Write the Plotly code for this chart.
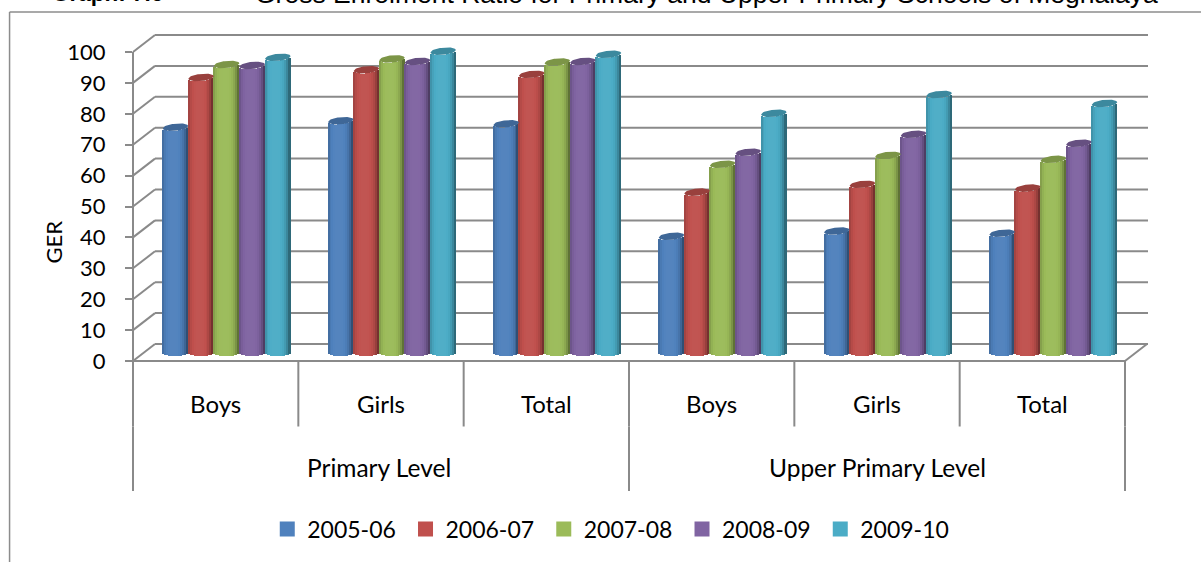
import plotly.graph_objects as go

# ---------- data ----------
levels = ["Primary Level", "Upper Primary Level"]
genders = ["Boys", "Girls", "Total", "Boys", "Girls", "Total"]
years = ["2005-06", "2006-07", "2007-08", "2008-09", "2009-10"]
v_2005_06 = [72.9, 75.0, 74.0, 37.6, 39.3, 38.6]
v_2006_07 = [89.0, 91.5, 90.0, 51.9, 54.4, 53.2]
v_2007_08 = [93.2, 95.0, 94.0, 60.9, 63.8, 62.5]
v_2008_09 = [92.9, 94.2, 94.2, 64.8, 70.6, 67.7]
v_2009_10 = [95.5, 97.5, 96.5, 77.4, 83.5, 80.6]
series = [v_2005_06, v_2006_07, v_2007_08, v_2008_09, v_2009_10]
colors = ["#4F81BD", "#C0504D", "#9BBB59", "#8064A2", "#4BACC6"]
y_ticks = list(range(0, 101, 10))

# ---------- frame geometry (pixels) ----------
W, H = 1201, 562
L, R, T, B = 132.5, 1148, 34, 361
CELL = (1125 - 132.5) / 6
UNIT = 3.09
x_max = (R - L) / CELL
y_max = (B - T) / UNIT
DX, DY = 22 / CELL, 17 / UNIT          # depth of the 3-D box, data units
MID_X, MID_Y = DX / 2, DY / 2          # bars stand half way back
BAR_W = 25.6 / CELL
STRIPS = 13
RY = 3.6 / UNIT
GRID = "#8a8a8a"


def shade(hex_color, f):
    r, g, b = (int(hex_color[i:i + 2], 16) for i in (1, 3, 5))
    if f <= 1:
        r, g, b = r * f, g * f, b * f
    else:
        k = f - 1
        r, g, b = r + (255 - r) * k, g + (255 - g) * k, b + (255 - b) * k
    return f"rgb({int(r)},{int(g)},{int(b)})"


fig = go.Figure()

# cylinder bodies: vertical strips of each bar, shaded across the width
for si, (vals, name, col) in enumerate(zip(series, years, colors)):
    xs, ws, bases, hs, cols = [], [], [], [], []
    sw = BAR_W / STRIPS
    for ci, v in enumerate(vals):
        cx = ci + 0.5 + MID_X + (si - 2) * BAR_W
        for k in range(STRIPS):
            u = (k + 0.5) / STRIPS * 2 - 1
            arc = RY * (1 - u * u) ** 0.5
            tilt = 1.2 / UNIT * u
            xs.append(cx + u * BAR_W / 2)
            ws.append(sw)
            bottom = MID_Y - arc
            top = v + MID_Y - arc + tilt
            bases.append(bottom)
            hs.append(top - bottom)
            dark = abs(u + 0.12) ** 3.4
            cols.append(shade(col, 1.03 - 0.36 * dark))
    fig.add_trace(go.Bar(x=xs, y=hs, base=bases, width=ws, marker=dict(color=cols, line_width=0),
                         showlegend=False, name=name, hoverinfo="skip"))

# cylinder tops
for si, (vals, name, col) in enumerate(zip(series, years, colors)):
    xs, ys = [], []
    for ci, v in enumerate(vals):
        cx = ci + 0.5 + MID_X + (si - 2) * BAR_W
        n = 25
        for k in range(n):
            u = k / (n - 1) * 2 - 1
            arc = RY * (1 - u * u) ** 0.5
            tilt = 1.2 / UNIT * u
            xs.append(cx + u * BAR_W / 2)
            ys.append(v + MID_Y + arc + tilt)
        for k in range(n - 1, -1, -1):
            u = k / (n - 1) * 2 - 1
            arc = RY * (1 - u * u) ** 0.5
            tilt = 1.2 / UNIT * u
            xs.append(cx + u * BAR_W / 2)
            ys.append(v + MID_Y - arc + tilt)
        xs.append(None)
        ys.append(None)
    fig.add_trace(go.Scatter(x=xs, y=ys, mode="lines", fill="toself", line=dict(width=0),
                             fillcolor=shade(col, 0.8), showlegend=False, hoverinfo="skip"))

# legend entries
for name, col in zip(years, colors):
    fig.add_trace(go.Scatter(x=[None], y=[None], mode="markers", name=name,
                             marker=dict(symbol="square", size=15, color=col)))


def px_x(p):
    return (p - L) / (R - L)


def px_y(p):
    return (B - p) / (B - T)


def dx(v):
    return v / x_max


def dy(v):
    return v / y_max


# ---------- box, gridlines, dividers (paper refs so nothing is clipped) ----------
shapes = []


def seg(x0, y0, x1, y1):
    shapes.append(dict(type="line", xref="paper", yref="paper", x0=dx(x0), y0=dy(y0), x1=dx(x1), y1=dy(y1),
                       layer="below", line=dict(color=GRID, width=2)))


for t in y_ticks:
    seg(0, t, DX, t + DY)
    seg(DX, t + DY, x_max, t + DY)
seg(0, 0, 0, 100)
seg(0, 0, 6, 0)
seg(6, 0, 6 + DX, DY)
for i in range(7):
    seg(i, 0, i, -65.5 / UNIT)
for i in (0, 3, 6):
    seg(i, -65.5 / UNIT, i, -130 / UNIT)

# outer frame of the chart
border = dict(color="#8c8c8c", width=1.5)
shapes.append(dict(type="line", xref="paper", yref="paper", x0=px_x(9), x1=px_x(1201), y0=px_y(12), y1=px_y(12), line=border))
shapes.append(dict(type="line", xref="paper", yref="paper", x0=px_x(9), x1=px_x(9), y0=px_y(12), y1=px_y(562), line=border))

FONT = "Lato"
annotations = [
    dict(text="GER", xref="paper", yref="paper", x=px_x(52), y=px_y(242), textangle=-90, showarrow=False,
         xanchor="center", yanchor="middle", font=dict(family=FONT, size=22, color="black")),
    dict(text=levels[0], xref="x", yref="paper", x=1.49, y=px_y(468), showarrow=False, yanchor="middle",
         font=dict(family=FONT, size=24.5, color="black")),
    dict(text=levels[1], xref="x", yref="paper", x=4.5, y=px_y(468), showarrow=False, yanchor="middle",
         font=dict(family=FONT, size=24.5, color="black")),
    dict(text="<b>Graph: 7.6</b>", xref="paper", yref="paper", x=px_x(49), y=px_y(-6), xanchor="left",
         yanchor="middle", showarrow=False, font=dict(family="Liberation Sans", size=22.5, color="black")),
    dict(text="Gross Enrolment Ratio for Primary and Upper Primary Schools of Meghalaya", xref="paper", yref="paper",
         x=px_x(253), y=px_y(-6), xanchor="left", yanchor="middle", showarrow=False,
         font=dict(family="Liberation Sans", size=26.5, color="black")),
]

fig.update_layout(
    width=W, height=H, autosize=False,
    margin=dict(l=L, r=W - R, t=T, b=H - B, pad=0),
    plot_bgcolor="white", paper_bgcolor="white",
    barmode="overlay", bargap=0,
    shapes=shapes, annotations=annotations,
    font=dict(family=FONT, color="black"),
    xaxis=dict(range=[0, x_max], tickmode="array", tickvals=[i + 0.5 for i in range(6)], ticktext=genders,
               showgrid=False, zeroline=False, showline=False, ticks="", ticklabelstandoff=27,
               tickfont=dict(family=FONT, size=24, color="black")),
    yaxis=dict(range=[0, y_max], tickmode="array", tickvals=y_ticks, showgrid=False, zeroline=False, showline=False,
               ticks="outside", ticklen=7, tickwidth=2, tickcolor=GRID, ticklabelstandoff=15,
               tickfont=dict(family=FONT, size=22, color="black")),
    legend=dict(orientation="h", x=px_x(613), xanchor="center", y=px_y(529), yanchor="middle",
                font=dict(family=FONT, size=23, color="black"), itemclick=False, itemdoubleclick=False,
                bgcolor="rgba(0,0,0,0)", tracegroupgap=0, entrywidth=93.25, entrywidthmode="pixels", itemwidth=30),
)
fig.write_html("out.html", config={"displayModeBar": False}, post_script="document.body.style.margin='0';")
